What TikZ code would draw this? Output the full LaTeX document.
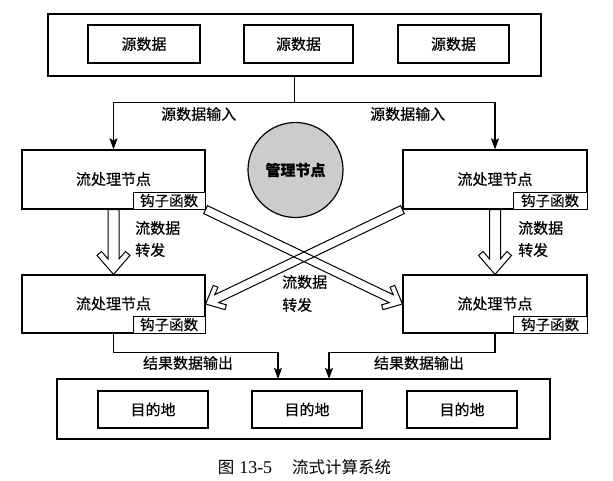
\documentclass[tikz,border=0pt]{standalone}
\usepackage{fontspec}
\newfontfamily\cjk[FakeBold=0.4]{Noto Sans CJK SC}
\newfontfamily\cjkcap{Noto Sans CJK SC}
\newfontfamily\serifnum{Liberation Serif}
\usetikzlibrary{calc,arrows.meta}

\tikzset{
  txt/.style={font={\cjk\fontsize{15pt}{17pt}\selectfont}, inner sep=0pt},
  bigbox/.style={draw, line width=1.2pt, rectangle, inner sep=0pt},
  srcbox/.style={draw, line width=1.1pt, rectangle, inner sep=0pt, minimum height=38pt, txt},
  procbox/.style={draw, line width=1.2pt, rectangle, inner sep=0pt, minimum width=183pt, minimum height=59pt, txt},
  hookbox/.style={draw, line width=1pt, rectangle, inner sep=0pt, fill=white, minimum width=72pt, minimum height=17pt, font={\cjk\fontsize{14.5pt}{15pt}\selectfont}},
  conn/.style={line width=1.1pt, -{Stealth[length=11pt,width=8pt,inset=2pt]}},
  plainline/.style={line width=1.1pt},
  harrowline/.style={line width=1pt, line join=miter},
}

% hollow block arrow: #1 start, #2 tip, #3 half shaft width, #4 half head width, #5 head length, #6 arm thickness
\newcommand\hollowarrow[6]{%
  \pgfmathsetmacro\hn{sqrt(#5*#5+#4*#4)}%
  \pgfmathsetmacro\hCb{#5+#6*#4/\hn}%
  \pgfmathsetmacro\hCp{#4-#6*#5/\hn}%
  \pgfmathsetmacro\hBb{\hCb-(\hCp-#3)*#5/#4}%
  \coordinate (hC) at ($(#2)!\hCb pt!(#1)$);
  \coordinate (hCo) at ($(#2)!#5pt!(#1)$);
  \coordinate (hB) at ($(#2)!\hBb pt!(#1)$);
  \draw[harrowline] ($(#1)!#3pt!90:(#2)$) -- ($(hB)!#3pt!-90:(#1)$)
    -- ($(hC)!\hCp pt!-90:(#1)$) -- ($(hCo)!#4pt!-90:(#1)$) -- (#2)
    -- ($(hCo)!#4pt!90:(#1)$) -- ($(hC)!\hCp pt!90:(#1)$)
    -- ($(hB)!#3pt!90:(#1)$) -- ($(#1)!#3pt!-90:(#2)$) -- cycle;
}

\begin{document}
\begin{tikzpicture}[x=1pt, y=-1pt]
\useasboundingbox (0,0) rectangle (613,481);

% source section
\node[bigbox, minimum width=493pt, minimum height=62pt] (src) at (294.5,45) {};
\node[srcbox, minimum width=112pt] (s1) at (144,44) {源数据};
\node[srcbox, minimum width=109pt] (s2) at (298.5,44) {源数据};
\node[srcbox, minimum width=111pt] (s3) at (453.5,44) {源数据};

% management node
\node[circle, draw, line width=1.2pt, fill=black!20, minimum size=95pt, inner sep=0pt,
      font={\cjk\bfseries\fontsize{15pt}{17pt}\selectfont}] (mgr) at (295.5,170) {管理节点};

% processing nodes
\node[procbox] (tl) at (113.5,179.5) {\raisebox{2pt}{流处理节点}};
\node[procbox, minimum width=184pt] (tr) at (495,179.5) {\raisebox{2pt}{流处理节点}};
\node[procbox, minimum height=58pt] (bl) at (113.5,304) {\raisebox{2pt}{流处理节点}};
\node[procbox, minimum width=184pt, minimum height=58pt] (br) at (495,304) {\raisebox{2pt}{流处理节点}};
\node[hookbox, anchor=south east] (htl) at (tl.south east) {钩子函数};
\node[hookbox, anchor=south east, minimum width=74pt] (htr) at (tr.south east) {钩子函数};
\node[hookbox, anchor=south east] (hbl) at (bl.south east) {钩子函数};
\node[hookbox, anchor=south east, minimum width=74pt] (hbr) at (br.south east) {钩子函数};

% destination section
\node[bigbox, minimum width=493pt, minimum height=60pt] (dst) at (303.5,409) {};
\node[srcbox, minimum width=110pt, minimum height=37pt] (d1) at (153,409.5) {目的地};
\node[srcbox, minimum width=110pt, minimum height=37pt] (d2) at (307,409.5) {目的地};
\node[srcbox, minimum width=110pt, minimum height=37pt] (d3) at (462,409.5) {目的地};

% input connectors
\coordinate (split) at ($(src.south)+(0,26)$);
\draw[plainline] (src.south) -- (split);
\draw[conn] (split) -| (tl.north);
\draw[conn] (split) -| (tr.north);
\node[txt] (lin1) at (198.7,114) {源数据输入};
\node[txt] (lin2) at (407.7,114) {源数据输入};

% forward hollow arrows
\hollowarrow{tl.south}{bl.north}{5.5}{16.5}{19}{6}
\hollowarrow{tr.south}{br.north}{5.5}{16.5}{19}{6}
\hollowarrow{tl.south east}{br.west}{4.4}{13.5}{15}{5}
\hollowarrow{tr.south west}{bl.east}{4.4}{13.5}{15}{5}

\node[txt, anchor=west] (f1a) at (135,228) {流数据};
\node[txt, anchor=west] (f1b) at (135,250) {转发};
\node[txt, anchor=west] (f2a) at (518,228) {流数据};
\node[txt, anchor=west] (f2b) at (518,250) {转发};
\node[txt, anchor=west] (f3a) at (282,282) {流数据};
\node[txt, anchor=west] (f3b) at (282,305) {转发};

% output connectors
\coordinate (inL) at (278,379);
\coordinate (inR) at (329,379);
\draw[conn] (bl.south) -- ++(0,19) -| (inL);
\draw[conn] (br.south) -- ++(0,19) -| (inR);
\node[txt] (lout1) at (188,363) {结果数据输出};
\node[txt] (lout2) at (419,363) {结果数据输出};

% caption
\node[font={\cjkcap\fontsize{16.5pt}{18pt}\selectfont}, inner sep=0pt] (cap) at (304.5,467)
  {图\hspace{5pt}{\serifnum\fontsize{18pt}{18pt}\selectfont 13-5}\hspace{20pt}流式计算系统};
\end{tikzpicture}
\end{document}
